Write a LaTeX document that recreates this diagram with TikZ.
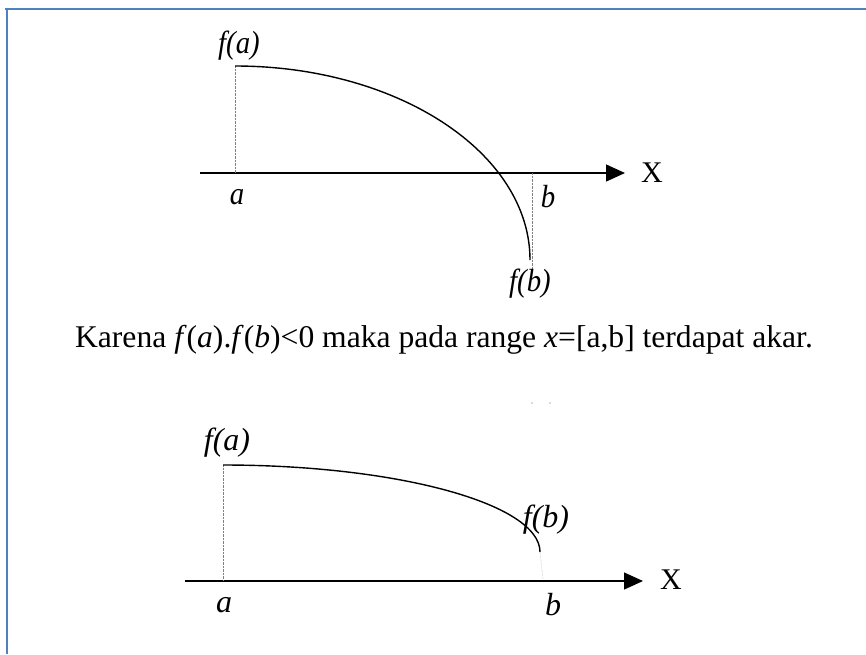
\documentclass[tikz,border=0pt]{standalone}
\usepackage{fontspec}
\setmainfont{Liberation Serif}
\usetikzlibrary{arrows.meta}
\definecolor{framblue}{HTML}{4F81BD}

\begin{document}
\begin{tikzpicture}[x=1pt, y=-1pt, >={Triangle[length=19pt, width=17pt]},
  lbl/.style={font=\fontsize{32}{34}\selectfont\itshape, inner sep=0pt},
  axlbl/.style={font=\fontsize{30}{32}\selectfont, inner sep=0pt}]
  \useasboundingbox (0, 0) rectangle (866, 654);
  % frame
  \draw[framblue, line width=2.4pt] (5, 9) -- (866, 9);
  \draw[framblue, line width=2.2pt] (7, 9) -- (7, 654);

  % first case
  \coordinate (ta) at (235, 173);
  \coordinate (tfa) at (235, 66);
  \coordinate (tfb) at (530, 260);
  \draw[->, line width=1.3pt] (200, 173) -- (625, 173);
  \node[axlbl] (tX) at (652, 173) {X};
  \draw[densely dotted, gray] (tfa) -- (ta);
  \draw[densely dotted, gray] (532, 173) -- (532, 270);
  \draw[line width=1.4pt] (tfa) .. controls (398, 66) and (530, 153) .. (tfb);
  \node[lbl, xscale=0.9] (tlfa) at (239, 46) {f(a)};
  \node[lbl, xscale=0.9] (tla) at (237, 197) {a};
  \node[lbl, xscale=0.9] (tlb) at (548, 197) {b};
  \node[lbl, xscale=0.9] (tlfb) at (530, 284) {f(b)};

  \node[font=\fontsize{31.6}{34}\selectfont, inner sep=0pt] (kalimat) at (444, 340)
    {Karena \textit{f}(\textit{a}).\textit{f}(\textit{b})<0 maka pada range \textit{x}=[a,b] terdapat akar.};

  % second case
  \coordinate (ba) at (223, 581);
  \coordinate (bfa) at (223, 465);
  \coordinate (bfb) at (540, 552);
  \draw[->, line width=1.3pt] (185, 581) -- (643, 581);
  \node[axlbl] (bX) at (671, 580) {X};
  \draw[densely dotted, gray] (bfa) -- (ba);
  \draw[densely dotted, gray] (bfb) -- (543, 579);
  \draw[line width=1.4pt] (bfa) .. controls (398, 465) and (540, 504) .. (bfb);
  \node[lbl] (blfa) at (227, 443) {f(a)};
  \node[lbl] (bla) at (224, 605) {a};
  \node[lbl] (blb) at (553, 605) {b};
  \node[lbl] (blfb) at (546, 520) {f(b)};
  \fill[gray!60] (532, 403) circle (0.8) (550, 403) circle (0.8);
\end{tikzpicture}
\end{document}
